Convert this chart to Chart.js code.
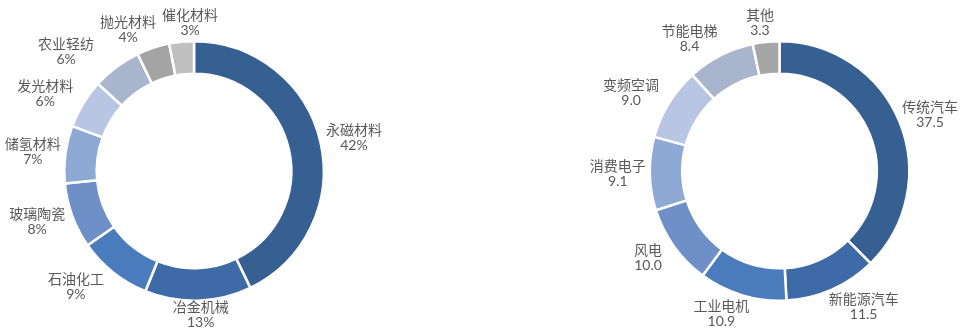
<!DOCTYPE html>
<html><head><meta charset="utf-8">
<script src="https://cdn.jsdelivr.net/npm/chart.js@4/dist/chart.umd.min.js"></script>
<style>
html,body{margin:0;padding:0;background:#fff;width:961px;height:331px;overflow:hidden;}
.wrap{position:absolute;top:0;height:331px;}
</style></head>
<body>
<div class="wrap" style="left:0;width:480px"><canvas id="c1" width="480" height="331"></canvas></div>
<div class="wrap" style="left:480px;width:481px"><canvas id="c2" width="481" height="331"></canvas></div>
<script>
const leftCategories = ['永磁材料','冶金机械','石油化工','玻璃陶瓷','储氢材料','发光材料','农业轻纺','抛光材料','催化材料'];
const leftValues = [42,13,9,8,7,6,6,4,3];
const leftValueLabels = ['42%','13%','9%','8%','7%','6%','6%','4%','3%'];

const rightCategories = ['传统汽车','新能源汽车','工业电机','风电','消费电子','变频空调','节能电梯','其他'];
const rightValues = [37.5,11.5,10.9,10.0,9.1,9.0,8.4,3.3];
const rightValueLabels = ['37.5','11.5','10.9','10.0','9.1','9.0','8.4','3.3'];

const leftColors = ['#365f92','#3e6ba8','#4a7bbd','#6e8fc7','#8fa9d5','#b8c6e3','#a8b5cd','#a4a4a4','#c0c0c0'];
const rightColors = ['#365f92','#3e6ba8','#4a7bbd','#6e8fc7','#8fa9d5','#b8c6e3','#a8b5cd','#a6a6a6'];

const FONT = '14px Lato, "Noto Sans CJK SC", sans-serif';
const TEXT_COLOR = '#595959';

const outsideLabels = {
  id: 'outsideLabels',
  afterDatasetsDraw(chart, args, opts) {
    const ctx = chart.ctx;
    const meta = chart.getDatasetMeta(0);
    const cats = chart.data.labels;
    const vals = opts.valueLabels;
    ctx.save();
    ctx.font = FONT;
    ctx.fillStyle = TEXT_COLOR;
    ctx.textAlign = 'center';
    ctx.textBaseline = 'middle';
    const lh = 15, pad = 4;
    const H = chart.height, W = chart.width;
    const boxes = meta.data.map((arc, i) => {
      const p = arc.getProps(['x','y','startAngle','endAngle','outerRadius'], true);
      const mid = (p.startAngle + p.endAngle) / 2;
      const dx = Math.cos(mid), dy = Math.sin(mid);
      const w = Math.max(ctx.measureText(cats[i]).width, ctx.measureText(vals[i]).width);
      const h = lh * 2;
      const r = p.outerRadius + pad;
      const k = 1 + 0.28 * dy * dy;
      let cx = p.x + dx * (r + w / 2) * k;
      let cy = p.y + dy * (r + h / 2);
      cy = Math.min(Math.max(cy, h / 2 + 2), H - h / 2 - 1);
      return {cx, cy, w, h, i};
    });
    for (let it = 0; it < 20; it++) {
      for (let a = 0; a < boxes.length; a++) {
        for (let b = a + 1; b < boxes.length; b++) {
          const A = boxes[a], B = boxes[b];
          const ox = (A.w + B.w) / 2 + 6 - Math.abs(A.cx - B.cx);
          const oy = (A.h + B.h) / 2 - Math.abs(A.cy - B.cy);
          if (ox > 0 && oy > 0) {
            const s = A.cx < B.cx ? -1 : 1;
            A.cx += s * ox / 2;
            B.cx -= s * ox / 2;
          }
        }
      }
    }
    boxes.forEach(bx => {
      bx.cx = Math.min(Math.max(bx.cx, bx.w / 2 + 3), W - bx.w / 2 - 3);
      ctx.fillText(cats[bx.i], bx.cx, bx.cy - lh / 2);
      ctx.fillText(vals[bx.i], bx.cx, bx.cy + lh / 2);
    });
    ctx.restore();
  }
};

function makeChart(id, cats, vals, labels, colors, padding) {
  return new Chart(document.getElementById(id), {
    type: 'doughnut',
    data: {
      labels: cats,
      datasets: [{
        data: vals,
        backgroundColor: colors,
        borderColor: '#ffffff',
        borderWidth: 2.5,
        hoverOffset: 0
      }]
    },
    options: {
      responsive: false,
      devicePixelRatio: 1,
      animation: false,
      cutout: '75%',
      layout: { padding: padding },
      plugins: {
        legend: { display: false },
        tooltip: { enabled: false },
        outsideLabels: { valueLabels: labels }
      }
    },
    plugins: [outsideLabels]
  });
}

makeChart('c1', leftCategories, leftValues, leftValueLabels, leftColors, {left:63, top:40, right:155, bottom:29});
makeChart('c2', rightCategories, rightValues, rightValueLabels, rightColors, {left:168, top:40, right:50, bottom:29});
</script>
</body></html>
